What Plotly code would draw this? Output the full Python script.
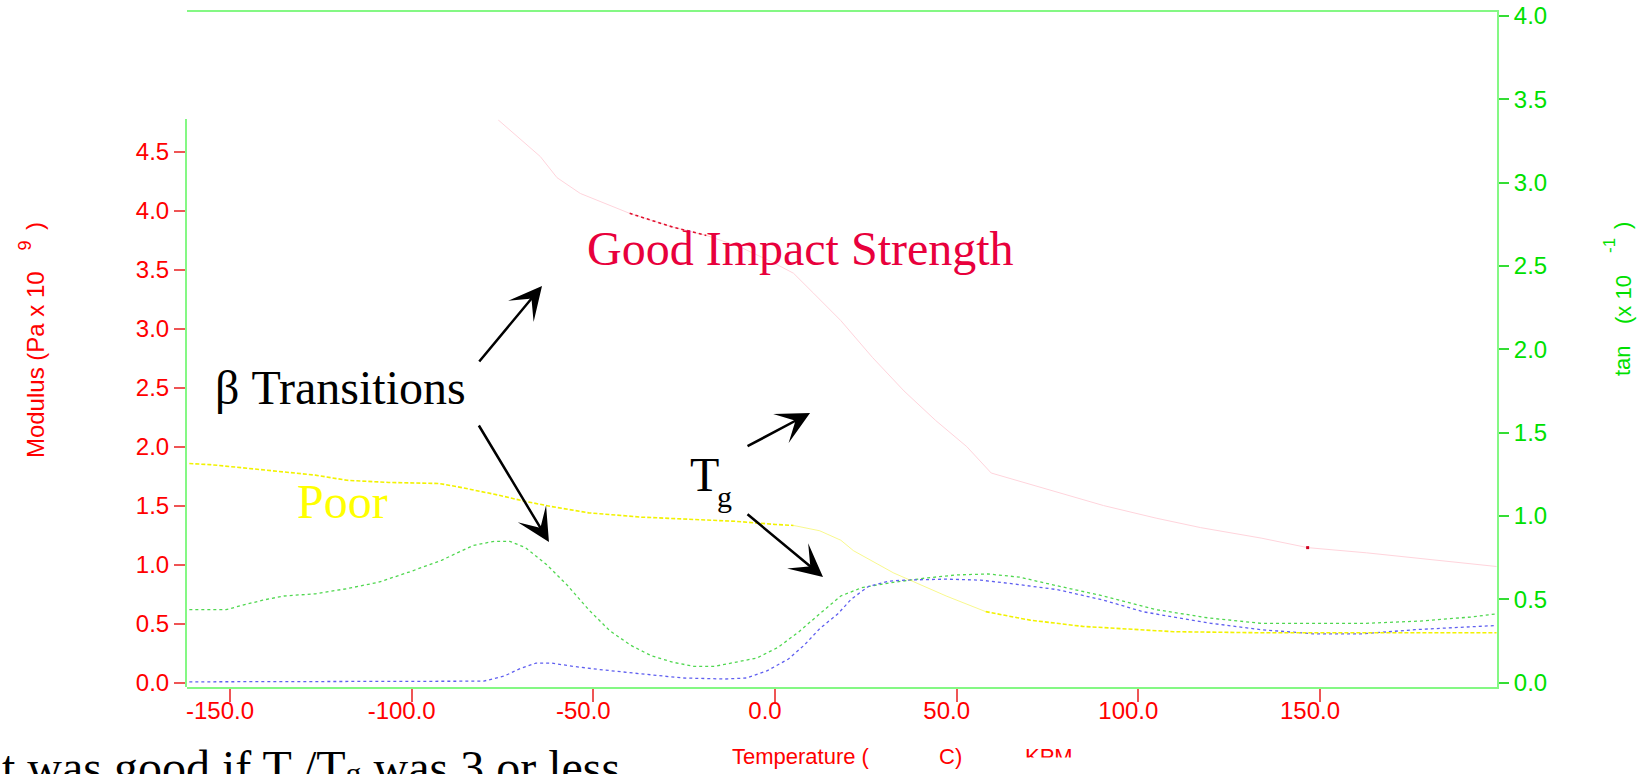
import plotly.graph_objects as go

# ---- temperature axis ----
x_ticks = [-150, -100, -50, 0, 50, 100, 150]
x_ticklabels = ["-150.0", "-100.0", "-50.0", "0.0", "50.0", "100.0", "150.0"]

# ---- modulus axis (Pa x 10^9) ----
mod_ticks = [0, 0.5, 1.0, 1.5, 2.0, 2.5, 3.0, 3.5, 4.0, 4.5]
mod_ticklabels = ["0.0", "0.5", "1.0", "1.5", "2.0", "2.5", "3.0", "3.5", "4.0", "4.5"]

# ---- tan delta axis (x 10^-1) ----
tan_ticks = [0, 0.5, 1.0, 1.5, 2.0, 2.5, 3.0, 3.5, 4.0]
tan_ticklabels = ["0.0", "0.5", "1.0", "1.5", "2.0", "2.5", "3.0", "3.5", "4.0"]

# storage modulus, good-impact grade
good_mod_temp = [-76.2, -71.6, -64.6, -60.0, -53.6, -40.0, -28.2, -18.9, -9.6, -0.4,
                 5.1, 10.6, 18.1, 26.8, 35.5, 44.2, 52.8, 59.5, 77.7, 90.4,
                 104.9, 117.1, 133.8, 146.6, 162.8, 177.2, 198.6]
good_mod = [4.773, 4.649, 4.462, 4.283, 4.149, 3.980, 3.864, 3.793, 3.695, 3.561,
            3.472, 3.303, 3.071, 2.759, 2.474, 2.224, 2.001, 1.778, 1.618, 1.502,
            1.395, 1.315, 1.226, 1.145, 1.101, 1.056, 0.985]

# storage modulus, poor-impact grade
poor_mod_temp = [-161.2, -155.5, -146.8, -135.2, -126.5, -117.8, -106.3, -92.4, -86.0, -76.2,
                 -68.7, -61.4, -51.3, -36.8, -25.3, -10.8, -0.1, 5.1, 12.3, 18.1,
                 21.6, 32.6, 47.1, 58.0, 70.2, 84.7, 109.8, 133.8, 162.8, 198.6]
poor_mod = [1.858, 1.849, 1.823, 1.787, 1.760, 1.716, 1.698, 1.689, 1.653, 1.591,
            1.537, 1.493, 1.440, 1.404, 1.386, 1.368, 1.342, 1.333, 1.288, 1.208,
            1.119, 0.931, 0.735, 0.602, 0.530, 0.477, 0.432, 0.423, 0.423, 0.423]

# tan delta, good-impact grade
good_tan_temp = [-161.2, -155.5, -151.1, -146.8, -141.0, -135.2, -126.5, -117.8, -109.2, -100.5,
                 -91.8, -83.1, -77.3, -73.0, -68.7, -62.9, -57.1, -51.3, -45.5, -39.7,
                 -34.0, -28.2, -22.4, -16.6, -10.8, -5.0, 0.8, 6.6, 12.3, 18.1,
                 23.9, 32.6, 41.3, 49.9, 58.6, 67.3, 76.0, 90.4, 104.9, 119.4,
                 133.8, 148.3, 162.8, 177.2, 191.7, 198.6]
good_tan = [0.438, 0.438, 0.438, 0.463, 0.495, 0.520, 0.533, 0.564, 0.602, 0.665,
            0.734, 0.823, 0.848, 0.848, 0.810, 0.709, 0.583, 0.438, 0.312, 0.224,
            0.161, 0.123, 0.098, 0.098, 0.123, 0.148, 0.211, 0.306, 0.413, 0.520,
            0.570, 0.602, 0.627, 0.646, 0.652, 0.633, 0.589, 0.520, 0.438, 0.388,
            0.356, 0.356, 0.356, 0.369, 0.394, 0.413]

# tan delta, poor-impact grade
poor_tan_temp = [-161.2, -141.0, -112.1, -86.0, -80.2, -74.4, -70.1, -65.8, -61.4, -55.6,
                 -48.4, -36.8, -25.3, -13.7, -7.9, -2.1, 3.7, 8.0, 12.3, 17.3,
                 21.0, 25.7, 31.1, 35.5, 47.1, 56.6, 64.4, 77.7, 90.4, 101.4,
                 107.8, 120.0, 133.8, 148.0, 161.9, 176.1, 198.6]
poor_tan = [0.005, 0.005, 0.005, 0.005, 0.009, 0.041, 0.085, 0.117, 0.117, 0.098,
            0.079, 0.053, 0.028, 0.022, 0.028, 0.072, 0.142, 0.224, 0.324, 0.413,
            0.501, 0.577, 0.608, 0.615, 0.621, 0.615, 0.596, 0.558, 0.495, 0.425,
            0.400, 0.356, 0.318, 0.293, 0.293, 0.318, 0.343]

GREEN_FRAME = "#84F884"
SANS = "Liberation Sans, Arial, sans-serif"
SERIF = "Liberation Serif, Times New Roman, serif"

fig = go.Figure()

# modulus curves (left axis -> y2)
fig.add_trace(go.Scatter(x=good_mod_temp, y=good_mod, yaxis="y2", mode="lines",
                         line=dict(color="rgb(255,212,220)", width=1)))
fig.add_trace(go.Scatter(x=good_mod_temp[5:8], y=good_mod[5:8], yaxis="y2", mode="lines",
                         line=dict(color="#E0102E", width=1.6, dash="3px,3px")))
fig.add_trace(go.Scatter(x=good_mod_temp[23:24], y=good_mod[23:24], yaxis="y2", mode="markers",
                         marker=dict(color="#D00020", size=3, symbol="square")))
fig.add_trace(go.Scatter(x=poor_mod_temp[:18], y=poor_mod[:18], yaxis="y2", mode="lines",
                         line=dict(color="#F2F200", width=1.6, dash="4px,2px")))
fig.add_trace(go.Scatter(x=poor_mod_temp[17:24], y=poor_mod[17:24], yaxis="y2", mode="lines",
                         line=dict(color="rgba(240,240,0,0.45)", width=1)))
fig.add_trace(go.Scatter(x=poor_mod_temp[23:], y=poor_mod[23:], yaxis="y2", mode="lines",
                         line=dict(color="#F2F200", width=1.6, dash="4px,2px")))

# tan delta curves (right axis -> y)
fig.add_trace(go.Scatter(x=good_tan_temp, y=good_tan, yaxis="y", mode="lines",
                         line=dict(color="rgb(80,215,80)", width=1.3, dash="dot")))
fig.add_trace(go.Scatter(x=poor_tan_temp, y=poor_tan, yaxis="y", mode="lines",
                         line=dict(color="rgb(95,95,240)", width=1.3, dash="dot")))

fig.update_layout(
    width=1648, height=774,
    margin=dict(l=187, r=151, t=12, b=87),
    paper_bgcolor="white", plot_bgcolor="rgba(0,0,0,0)",
    showlegend=False,
    xaxis=dict(range=[-161.84, 198.72], domain=[0, 1], anchor="y", automargin=False,
               showline=True, linecolor=GREEN_FRAME, linewidth=2, mirror=True,
               ticks="outside", ticklen=13, tickwidth=1.5, tickcolor="#EE5555",
               tickvals=x_ticks, ticktext=x_ticklabels, ticklabelshift=-10,
               ticklabelstandoff=-12,
               tickfont=dict(family=SANS, size=24, color="#FF0000"),
               showgrid=False, zeroline=False),
    yaxis=dict(range=[-0.026, 4.023], domain=[0, 1], anchor="x", side="right",
               automargin=False,
               showline=True, linecolor=GREEN_FRAME, linewidth=2,
               ticks="outside", ticklen=10, tickwidth=1.5, tickcolor="#33DD33",
               tickvals=tan_ticks, ticktext=tan_ticklabels,
               tickfont=dict(family=SANS, size=24, color="#00E000"),
               showgrid=False, zeroline=False),
    yaxis2=dict(range=[-0.037, 4.777], domain=[0, 0.8409], anchor="x", side="left",
                automargin=False,
                showline=True, linecolor=GREEN_FRAME, linewidth=2,
                ticks="outside", ticklen=11, tickwidth=1.5, tickcolor="#EE5555",
                tickvals=mod_ticks, ticktext=mod_ticklabels,
                tickfont=dict(family=SANS, size=24, color="#FF0000"),
                showgrid=False, zeroline=False),
)


def label(text, x, y, size, color, family=SANS, xanchor="left", yanchor="middle", angle=0):
    fig.add_annotation(text=text, x=x, y=y, xref="paper", yref="paper",
                       xanchor=xanchor, yanchor=yanchor, showarrow=False, textangle=angle,
                       font=dict(family=family, size=size, color=color))


# axis titles
label("Modulus (Pa x 10", -0.1160, 0.4770, 24, "#FF0000", xanchor="center", angle=-90)
label("9", -0.1240, 0.6533, 18, "#FF0000", xanchor="center", angle=-90)
label(")", -0.1160, 0.6830, 24, "#FF0000", xanchor="center", angle=-90)

label("tan", 1.0962, 0.4830, 22, "#00E000", xanchor="center", angle=-90)
label("(x 10", 1.0962, 0.5733, 22, "#00E000", xanchor="center", angle=-90)
label("-1", 1.0855, 0.6533, 17, "#00E000", xanchor="center", angle=-90)
label(")", 1.0962, 0.6830, 22, "#00E000", xanchor="center", angle=-90)

label("Temperature (", 0.4145, -0.1037, 22, "#FF0000")
label("C)", 0.5725, -0.1037, 22, "#FF0000")
label("KPM", 0.6382, -0.1037, 22, "#FF0000")
# white strip that hides the lower half of the trailing label
fig.add_annotation(text=" ", x=0.6320, y=-0.1037, xref="paper", yref="paper",
                   xanchor="left", yanchor="top", showarrow=False,
                   width=90, height=26, bgcolor="white")

# callouts
label("Good Impact Strength", 0.3038, 0.6489, 48, "#E8003C", family=SERIF)
label("\u03b2 Transitions", 0.0198, 0.4430, 48, "#000000", family=SERIF)
label("Poor", 0.0824, 0.2741, 48, "#FFFF00", family=SERIF)
label("T", 0.3824, 0.3141, 48, "#000000", family=SERIF)
label("g", 0.4030, 0.2815, 30, "#000000", family=SERIF)
label("t was good if T /T<span style=\"font-size:32px\">g</span> was 3 or less",
      -0.1427, -0.1190, 48, "#000000", family=SERIF)

for hx, hy, ax, ay in [(0.2710, 0.5941, -64, 77), (0.2763, 0.2148, -71, -118),
                       (0.4756, 0.4059, -64, 34), (0.4855, 0.1630, -77, -64)]:
    fig.add_annotation(text="", x=hx, y=hy, xref="paper", yref="paper",
                       ax=ax, ay=ay, showarrow=True, arrowhead=3,
                       arrowwidth=2.5, arrowsize=2.2, arrowcolor="#000000")

fig.write_html("out.html")
